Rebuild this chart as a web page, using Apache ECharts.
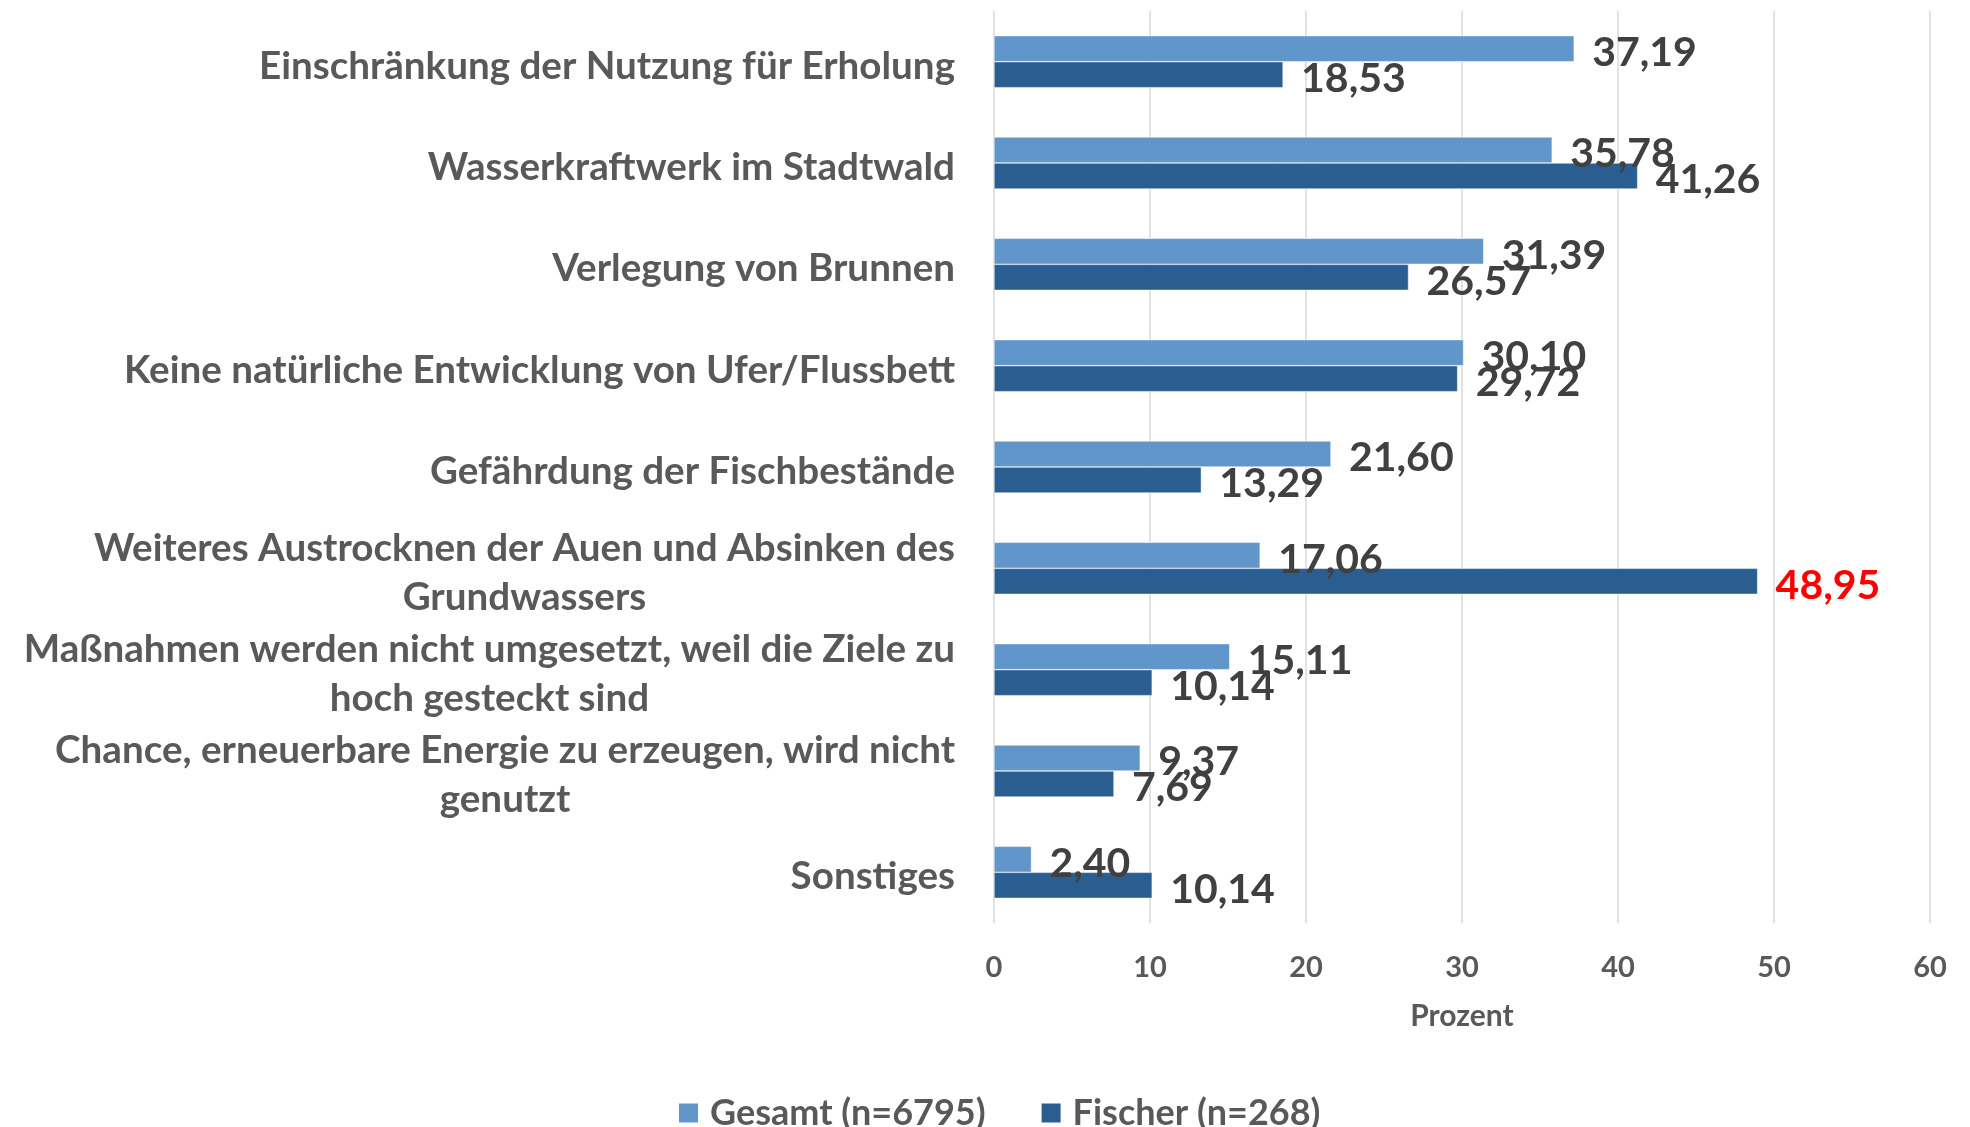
<!DOCTYPE html>
<html>
<head>
<meta charset="utf-8">
<script src="https://cdn.jsdelivr.net/npm/echarts@6/dist/echarts.min.js"></script>
<style>
  html, body { margin: 0; padding: 0; background: #ffffff; }
  #chart { width: 1970px; height: 1127px; }
</style>
</head>
<body>
<div id="chart"></div>
<script>
// Kategorien (von oben nach unten)
const categories = [
  'Einschränkung der Nutzung für Erholung',
  'Wasserkraftwerk im Stadtwald',
  'Verlegung von Brunnen',
  'Keine natürliche Entwicklung von Ufer/Flussbett',
  'Gefährdung der Fischbestände',
  'Weiteres Austrocknen der Auen und Absinken des\nGrundwassers',
  'Maßnahmen werden nicht umgesetzt, weil die Ziele zu\nhoch gesteckt sind',
  'Chance, erneuerbare Energie zu erzeugen, wird nicht\ngenutzt',
  'Sonstiges'
];

const seriesNames = ['Gesamt (n=6795)', 'Fischer (n=268)'];

// Anteile in Prozent
const gesamt = [37.19, 35.78, 31.39, 30.10, 21.60, 17.06, 15.11, 9.37, 2.40];
const fischer = [18.53, 41.26, 26.57, 29.72, 13.29, 48.95, 10.14, 7.69, 10.14];

const xTicks = [0, 10, 20, 30, 40, 50, 60];

const FONT = 'Lato, "Open Sans", sans-serif';
const fmt = v => v.toFixed(2).replace('.', ',');

// höchster Fischer-Wert wird rot hervorgehoben
const fischerMax = Math.max(...fischer);
const fischerData = fischer.map(v => v === fischerMax
  ? { value: v, label: { color: '#FF0000' } }
  : v);

const valueLabel = {
  show: true,
  position: 'right',
  distance: 18,
  offset: [0, 4],
  formatter: p => fmt(p.value),
  fontFamily: FONT,
  fontWeight: 'bold',
  fontSize: 41,
  color: '#404040'
};

const chart = echarts.init(document.getElementById('chart'), null, { renderer: 'canvas' });

chart.setOption({
  backgroundColor: '#ffffff',
  animation: false,
  grid: { left: 994, right: 40, top: 11, bottom: 204, containLabel: false, outerBoundsMode: 'none' },
  legend: {
    data: seriesNames,
    left: 672,
    top: 1090,
    itemWidth: 21,
    itemHeight: 21,
    itemGap: 54,
    icon: 'rect',
    textStyle: { fontFamily: FONT, fontWeight: 'bold', fontSize: 36, color: '#595959', padding: [0, 0, 0, 6] }
  },
  xAxis: {
    type: 'value',
    min: xTicks[0],
    max: xTicks[xTicks.length - 1],
    interval: 10,
    axisLine: { show: false },
    axisTick: { show: false },
    splitLine: { lineStyle: { color: '#D9D9D9', width: 1.5 } },
    axisLabel: { fontFamily: FONT, fontWeight: 'bold', fontSize: 29, color: '#595959', margin: 30 },
    name: 'Prozent',
    nameLocation: 'middle',
    nameGap: 78,
    nameTextStyle: { fontFamily: FONT, fontWeight: 'bold', fontSize: 30, color: '#595959' }
  },
  yAxis: {
    type: 'category',
    inverse: true,
    data: categories,
    axisLine: { show: false },
    axisTick: { show: false },
    axisLabel: {
      margin: 39,
      padding: [9, 0, 0, 0],
      formatter: v => '{c|' + v + '}',
      rich: {
        c: { fontFamily: FONT, fontWeight: 'bold', fontSize: 38.6, color: '#595959', align: 'center', lineHeight: 49 }
      }
    }
  },
  series: [
    {
      name: seriesNames[0],
      type: 'bar',
      data: gesamt,
      barWidth: 26,
      barGap: '0%',
      itemStyle: { color: '#6096C9', borderColor: '#ffffff', borderWidth: 0.5 },
      label: valueLabel
    },
    {
      name: seriesNames[1],
      type: 'bar',
      data: fischerData,
      barWidth: 26,
      barGap: '0%',
      itemStyle: { color: '#2A5E91', borderColor: '#ffffff', borderWidth: 0.5 },
      label: valueLabel
    }
  ]
});
</script>
</body>
</html>
